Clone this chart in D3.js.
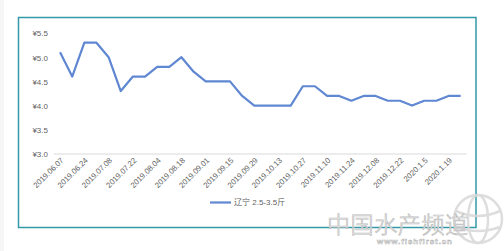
<!DOCTYPE html>
<html>
<head>
<meta charset="utf-8">
<script src="https://cdn.jsdelivr.net/npm/d3@7"></script>
<style>
  body { margin: 0; background: #fff; }
  svg { display: block; }
  text { font-family: "Liberation Sans", "Noto Sans CJK SC", sans-serif; }
</style>
</head>
<body>
<svg id="chart" width="504" height="251"></svg>
<script>
// dates (only every other one is labelled on the axis)
const dates = [
  '2019.06.07', '2019.06.14', '2019.06.24', '2019.07.01', '2019.07.08', '2019.07.15',
  '2019.07.22', '2019.07.29', '2019.08.04', '2019.08.11', '2019.08.18', '2019.08.25',
  '2019.09.01', '2019.09.08', '2019.09.15', '2019.09.22', '2019.09.29', '2019.10.06',
  '2019.10.13', '2019.10.20', '2019.10.27', '2019.11.03', '2019.11.10', '2019.11.17',
  '2019.11.24', '2019.12.01', '2019.12.08', '2019.12.15', '2019.12.22', '2019.12.29',
  '2020.1.5', '2020.1.12', '2020.1.19', '2020.1.26'
];
const prices = [
  5.1, 4.6, 5.3, 5.3, 5.0, 4.3, 4.6, 4.6, 4.8, 4.8, 5.0, 4.7,
  4.5, 4.5, 4.5, 4.2, 4.0, 4.0, 4.0, 4.0, 4.4, 4.4, 4.2, 4.2,
  4.1, 4.2, 4.2, 4.1, 4.1, 4.0, 4.1, 4.1, 4.2, 4.2
];
const yTicks = [3.0, 3.5, 4.0, 4.5, 5.0, 5.5];
const seriesName = '辽宁 2.5-3.5斤';

const svg = d3.select('#chart');
const lineColor = '#5f87d2';
const textColor = '#5f5f5f';

// faint strip on the far left of the page
svg.append('rect').attr('x', 0).attr('y', 0).attr('width', 4).attr('height', 251).attr('fill', '#f6f6f6');

// chart border
svg.append('rect')
  .attr('x', 18.5).attr('y', 17.5)
  .attr('width', 457.5).attr('height', 210)
  .attr('fill', '#fff')
  .attr('stroke', '#3399a8')
  .attr('stroke-width', 1.5);

let x = d3.scaleBand().domain(dates).range([54, 466.7]).padding(0);
let y = d3.scaleLinear().domain([3.0, 5.5]).range([154, 33]);
let cx = d => x(d) + x.bandwidth() / 2;

// baseline
svg.append('line')
  .attr('x1', 54).attr('x2', 466.7)
  .attr('y1', y(3.0)).attr('y2', y(3.0))
  .attr('stroke', '#d9d9d9').attr('stroke-width', 1);

// y axis labels
let yAxis = d3.axisLeft(y).tickValues(yTicks).tickSize(0).tickPadding(0)
  .tickFormat(d => '¥' + d.toFixed(1));
let yg = svg.append('g').attr('transform', 'translate(48,0)').call(yAxis);
yg.select('.domain').remove();
yg.selectAll('text')
  .attr('fill', textColor)
  .attr('font-size', 8)
  .attr('dy', '0.35em');

// x axis labels, every other category
let xAxis = d3.axisBottom(x).tickSize(0).tickPadding(0)
  .tickValues(dates.filter((d, i) => i % 2 === 0));
let xg = svg.append('g').attr('transform', 'translate(0,161)').call(xAxis);
xg.select('.domain').remove();
xg.selectAll('text')
  .attr('fill', textColor)
  .attr('font-size', 7.8)
  .attr('text-anchor', 'end')
  .attr('x', 3)
  .attr('y', 0)
  .attr('dy', '0.35em')
  .attr('transform', 'rotate(-45)');

// series line
let line = d3.line()
  .x((d, i) => cx(dates[i]))
  .y(d => y(d));

svg.append('path')
  .datum(prices)
  .attr('d', line)
  .attr('fill', 'none')
  .attr('stroke', lineColor)
  .attr('stroke-width', 2.2)
  .attr('stroke-linejoin', 'round');

// legend
let legend = svg.append('g').attr('transform', 'translate(210,202.5)');
legend.append('line')
  .attr('x1', 0).attr('x2', 21)
  .attr('stroke', lineColor).attr('stroke-width', 2.2);
legend.append('text')
  .attr('x', 24).attr('dy', '0.35em')
  .attr('font-size', 8)
  .attr('fill', textColor)
  .text(seriesName);

// watermark
let wm = svg.append('g');
let globe = wm.append('g').attr('transform', 'translate(478,219)')
  .attr('fill', 'none').attr('stroke', '#d8d8d8').attr('stroke-width', 2.5).attr('opacity', 0.85);
globe.append('circle').attr('r', 24);
globe.append('ellipse').attr('rx', 10).attr('ry', 24);
globe.append('path').attr('d', 'M-22,-8 Q0,2 22,-8 M-22,8 Q0,16 22,8');
wm.append('text')
  .attr('x', 327).attr('y', 233)
  .attr('font-family', '"Noto Sans CJK SC"')
  .attr('font-size', 23)
  .attr('font-weight', 300)
  .attr('textLength', 141)
  .attr('fill', '#fff')
  .attr('stroke', '#bcbcbc')
  .attr('stroke-width', 0.7)
  .text('中国水产频道');
wm.append('text')
  .attr('x', 377).attr('y', 244)
  .attr('font-family', '"DejaVu Serif", serif')
  .attr('font-size', 8)
  .attr('font-weight', 'bold')
  .attr('textLength', 75)
  .attr('fill', '#fff')
  .attr('stroke', '#b0b0b0')
  .attr('stroke-width', 0.5)
  .text('www.fishfirst.cn');
</script>
</body>
</html>
